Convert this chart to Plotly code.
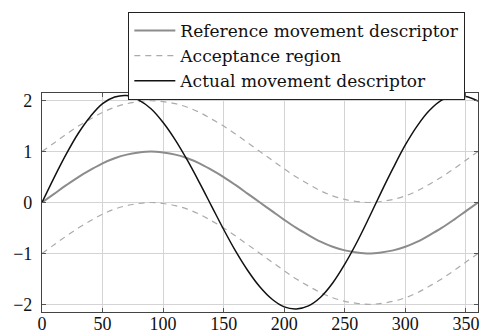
import plotly.graph_objects as go

# Data (angle in degrees)
angle = list(range(0, 361, 10))

reference = [0.00, 0.17, 0.34, 0.50, 0.64, 0.77, 0.87, 0.94, 0.98, 1.00,
             0.98, 0.94, 0.87, 0.77, 0.64, 0.50, 0.34, 0.17, 0.00, -0.17,
             -0.34, -0.50, -0.64, -0.77, -0.87, -0.94, -0.98, -1.00, -0.98, -0.94,
             -0.87, -0.77, -0.64, -0.50, -0.34, -0.17, 0.00]

accept_upper = [1.00, 1.17, 1.34, 1.50, 1.64, 1.77, 1.87, 1.94, 1.98, 2.00,
                1.98, 1.94, 1.87, 1.77, 1.64, 1.50, 1.34, 1.17, 1.00, 0.83,
                0.66, 0.50, 0.36, 0.23, 0.13, 0.06, 0.02, 0.00, 0.02, 0.06,
                0.13, 0.23, 0.36, 0.50, 0.66, 0.83, 1.00]

accept_lower = [-1.00, -0.83, -0.66, -0.50, -0.36, -0.23, -0.13, -0.06, -0.02, 0.00,
                -0.02, -0.06, -0.13, -0.23, -0.36, -0.50, -0.66, -0.83, -1.00, -1.17,
                -1.34, -1.50, -1.64, -1.77, -1.87, -1.94, -1.98, -2.00, -1.98, -1.94,
                -1.87, -1.77, -1.64, -1.50, -1.34, -1.17, -1.00]

actual = [0.00, 0.49, 0.95, 1.36, 1.69, 1.94, 2.07, 2.10, 2.01, 1.84,
          1.57, 1.23, 0.83, 0.39, -0.07, -0.53, -0.96, -1.34, -1.66, -1.90,
          -2.05, -2.09, -2.03, -1.86, -1.58, -1.21, -0.78, -0.30, 0.20, 0.68,
          1.13, 1.51, 1.81, 2.01, 2.09, 2.08, 1.99]

x_ticks = [0, 50, 100, 150, 200, 250, 300, 350]
y_ticks = [-2, -1, 0, 1, 2]
y_tick_text = ["\u22122", "\u22121", "0", "1", "2"]

fig = go.Figure()
fig.add_trace(go.Scatter(x=angle, y=reference, mode="lines", line_shape="spline",
                         name="Reference movement descriptor",
                         line=dict(color="#8c8c8c", width=2)))
fig.add_trace(go.Scatter(x=angle, y=accept_upper, mode="lines", line_shape="spline",
                         name="Acceptance region",
                         line=dict(color="#ababab", width=1.2, dash="6px,5px")))
fig.add_trace(go.Scatter(x=angle, y=accept_lower, mode="lines", line_shape="spline",
                         name="Acceptance region", showlegend=False,
                         line=dict(color="#ababab", width=1.2, dash="6px,5px")))
fig.add_trace(go.Scatter(x=angle, y=actual, mode="lines", line_shape="spline",
                         name="Actual movement descriptor",
                         line=dict(color="#111111", width=1.5)))

axis_common = dict(showgrid=True, gridcolor="#d4d4d4", gridwidth=1, automargin=False,
                   zeroline=False, showline=True, linecolor="#444444", linewidth=1.2,
                   mirror="allticks", ticks="inside", ticklen=4, tickcolor="#555555",
                   tickfont=dict(family="Liberation Serif", size=18, color="#111111"))

fig.update_xaxes(range=[0, 360], tickvals=x_ticks, ticklabelstandoff=-5, **axis_common)
fig.update_yaxes(range=[-2.15, 2.15], tickvals=y_ticks, ticktext=y_tick_text,
                 ticklabelstandoff=5, **axis_common)

fig.update_layout(
    width=481, height=334,
    margin=dict(l=42, r=3, t=93, b=22),
    paper_bgcolor="white", plot_bgcolor="white",
    legend=dict(x=0.198, y=1.37, xanchor="left", yanchor="top",
                bgcolor="white", bordercolor="#222222", borderwidth=1,
                font=dict(family="DejaVu Serif", size=17, color="#111111"),
                itemwidth=41, tracegroupgap=0),
)

fig.write_html("out.html")
